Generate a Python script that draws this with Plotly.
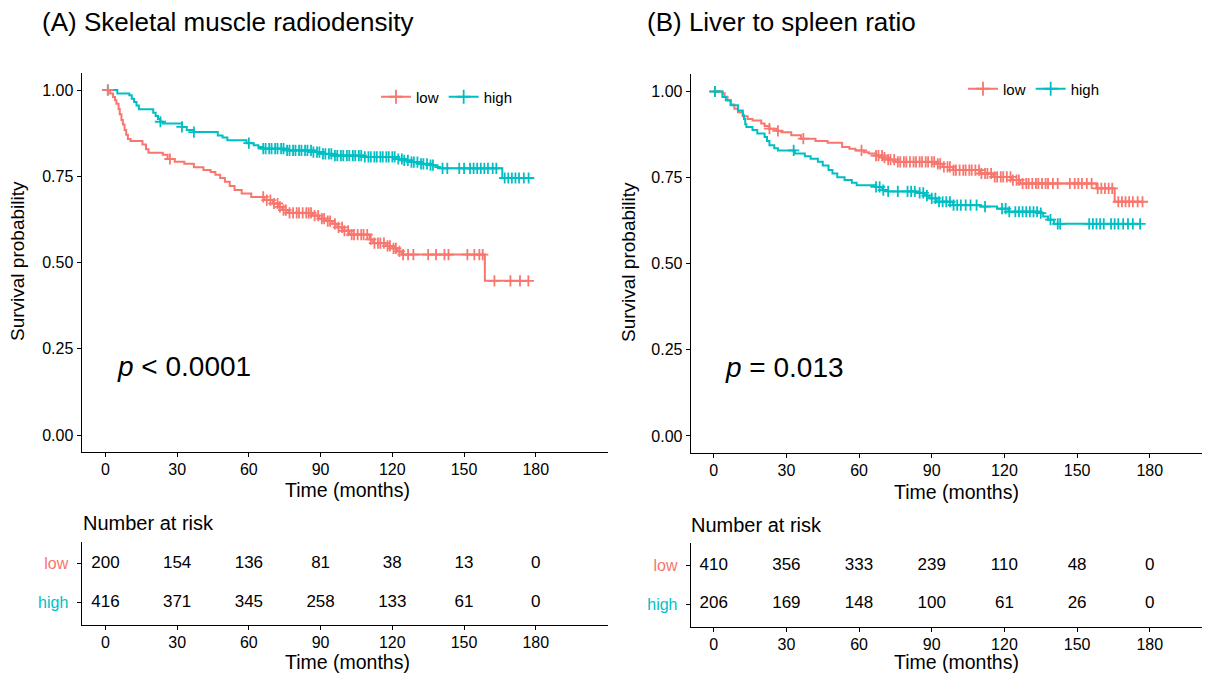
import numpy as np
import plotly.graph_objects as go

RED = "#F8766D"
TEAL = "#00BFC4"
FONT = "Liberation Sans"

# ---------------- Data ----------------
# Panel A: Skeletal muscle radiodensity
a_low_t = [0, 2, 3.2, 4, 4.6, 5.5, 6, 6.7, 7.3, 8, 8.7, 9.4, 10.5, 15.5, 17, 18, 24, 26, 29, 33, 37, 41, 44,
           46, 48, 50, 52, 54, 57, 61, 66.5, 70, 72.2, 74, 76.5, 86.4, 89.2, 92, 95, 97, 99.1, 102, 110.5,
           112, 117.5, 120.4, 122, 124, 158.7]
a_low_s = [1.0, 0.99, 0.98, 0.97, 0.96, 0.945, 0.93, 0.913, 0.9, 0.884, 0.87, 0.858, 0.852, 0.842, 0.828,
           0.818, 0.812, 0.8, 0.792, 0.786, 0.776, 0.768, 0.762, 0.754, 0.745, 0.734, 0.722, 0.71, 0.7, 0.69,
           0.681, 0.671, 0.661, 0.652, 0.644, 0.636, 0.627, 0.62, 0.612, 0.602, 0.592, 0.581, 0.567, 0.556,
           0.548, 0.541, 0.532, 0.523, 0.447]
a_low_end = 177
a_low_cens = [1, 27, 66, 67.5, 69, 70.5, 72, 73, 74.5, 75.5, 77, 78.5, 80, 81, 82.5, 84, 85, 86, 87.5, 89, 90.5,
              91.5, 93, 94, 96, 97.5, 99, 100, 101.5, 103, 104, 105.5, 107, 108, 109.5, 111, 112.5, 114, 115,
              116.5, 118, 119, 120.5, 121.5, 123, 124.5, 126.6, 128.8, 135, 138.3, 141.8, 143.5, 151.4, 154.3,
              156.4, 157.8, 162.7, 169.4, 173.4, 176.9]

a_high_t = [0, 5, 10, 11, 12, 13, 14, 20, 21, 22, 23, 24, 32, 34, 37, 47, 49, 51, 59, 62, 64, 66, 76, 87, 91,
            95, 108, 122, 125, 128, 132, 136, 138, 140, 166]
a_high_s = [1.0, 0.99, 0.985, 0.975, 0.965, 0.955, 0.944, 0.934, 0.925, 0.916, 0.908, 0.903, 0.893, 0.884,
            0.878, 0.868, 0.862, 0.854, 0.846, 0.84, 0.835, 0.83, 0.825, 0.82, 0.815, 0.81, 0.806, 0.8, 0.796,
            0.791, 0.786, 0.782, 0.777, 0.773, 0.745]
a_high_end = 178
a_high_cens = [1, 23, 32, 37, 60, 66, 67, 68.5, 69.5, 71, 72, 73.5, 74.5, 76, 77, 78.5, 79.5, 81, 82, 83.5, 84.5,
               86, 87, 88.5, 89.5, 91, 92, 93.5, 94.5, 96, 97, 98.5, 99.5, 101, 102, 103.5, 104.5, 106, 107,
               108.5, 110, 111, 112.5, 113.5, 115, 116, 117.5, 118.5, 120, 121, 122.5, 124, 125, 126.5, 128,
               129, 130.5, 132, 133, 134.5, 136, 137, 141, 143, 148, 150, 152.5, 154, 155.5, 157, 158.5, 160,
               162, 163.5, 167, 168.5, 170, 171.5, 173, 175, 177]

# Panel B: Liver to spleen ratio
b_low_t = [0, 3.6, 4.5, 5.7, 7, 8.5, 10, 12, 14, 16, 19.6, 21, 23, 26, 28, 32, 36, 42, 47, 53, 56, 58.5, 62,
           64, 67, 69.6, 72, 75, 92, 94.6, 98.8, 110, 115.4, 123, 126.5, 158, 165.5]
b_low_s = [1.0, 0.995, 0.985, 0.974, 0.962, 0.95, 0.94, 0.928, 0.92, 0.916, 0.907, 0.9, 0.892, 0.886, 0.882,
           0.873, 0.863, 0.856, 0.851, 0.839, 0.834, 0.829, 0.824, 0.82, 0.814, 0.808, 0.802, 0.796, 0.79,
           0.781, 0.772, 0.762, 0.752, 0.743, 0.733, 0.719, 0.68]
b_low_end = 177
b_low_cens = [0.5, 23, 26.5, 37, 61, 67, 68, 69.5, 70.5, 72, 73, 74.5, 76, 77, 78.5, 79.5, 81, 82.5, 83.5, 85,
              86, 87.5, 88.5, 90, 91, 92.5, 93.5, 95, 96.5, 97.5, 99, 100, 101.5, 103, 104, 105.5, 106.5, 108,
              109.5, 110.5, 112, 113, 114.5, 116, 117, 118.5, 119.5, 121, 122.5, 123.5, 125, 126, 127.5, 129,
              130, 131.5, 133, 134, 135.5, 137, 138, 140, 142, 147, 149, 150.5, 152, 154, 156, 158.5, 160,
              161.5, 163, 164.5, 167, 168.5, 170, 171.5, 173, 175, 177]

b_high_t = [0, 3.6, 5, 7, 10, 12, 12.5, 13, 13.5, 16, 18, 21, 22, 23, 25, 26.5, 33.5, 37.6, 40, 43, 45, 47.4,
            49, 51, 54, 57, 59, 67, 69.6, 72, 83.5, 87, 89, 92, 98.8, 110, 117, 121.7, 135, 136, 138, 140.4]
b_high_s = [1.0, 0.984, 0.975, 0.96, 0.945, 0.931, 0.92, 0.905, 0.897, 0.888, 0.878, 0.868, 0.856, 0.844,
            0.835, 0.829, 0.82, 0.812, 0.805, 0.796, 0.785, 0.772, 0.762, 0.751, 0.743, 0.735, 0.728, 0.723,
            0.714, 0.71, 0.706, 0.698, 0.69, 0.68, 0.67, 0.666, 0.66, 0.651, 0.647, 0.637, 0.628, 0.616]
b_high_end = 176
b_high_cens = [0.5, 33, 67, 68.5, 70, 72, 76, 80, 81.5, 83, 85, 86.5, 88, 90, 91.5, 93, 94.5, 96, 97.5, 99,
               100.5, 102, 104, 106, 108.5, 112, 119, 120.5, 122, 124.5, 126, 127.5, 129, 130.5, 132, 133.5,
               135, 139, 142, 143, 155, 156.5, 158, 159.5, 161, 164, 165.5, 167, 169, 171, 173, 176]

# Number-at-risk tables
risk_times = [0, 30, 60, 90, 120, 150, 180]
a_risk_low = [200, 154, 136, 81, 38, 13, 0]
a_risk_high = [416, 371, 345, 258, 133, 61, 0]
b_risk_low = [410, 356, 333, 239, 110, 48, 0]
b_risk_high = [206, 169, 148, 100, 61, 26, 0]

groups = ["low", "high"]
x_ticks = [0, 30, 60, 90, 120, 150, 180]
y_ticks = [0, 0.25, 0.5, 0.75, 1.0]
y_ticktext = ["0.00", "0.25", "0.50", "0.75", "1.00"]
titles = ["(A) Skeletal muscle radiodensity", "(B) Liver to spleen ratio"]
pvals = ["<i>p</i> &lt; 0.0001", "<i>p</i> = 0.013"]

# ---------------- Helpers ----------------
# The page body has an 8px default margin, so the figure is drawn offset by 8px.
OFF = 8
W, H = 1210 - OFF, 673 - OFF


def px_x(p):
    return (p - OFF) / W


def px_y(p):
    return 1 - (p - OFF) / H


def surv_at(t, times, surv):
    idx = np.searchsorted(np.asarray(times), np.asarray(t), side="right") - 1
    return np.asarray(surv)[idx]


fig = go.Figure()


def add_curve(t, s, end, cens, color, xa, ya):
    fig.add_trace(go.Scatter(x=list(t) + [end], y=list(s) + [s[-1]], mode="lines",
                             line=dict(color=color, width=2, shape="hv"),
                             xaxis=xa, yaxis=ya, showlegend=False, hoverinfo="skip"))
    fig.add_trace(go.Scatter(x=cens, y=surv_at(cens, t, s), mode="markers",
                             marker=dict(symbol="cross-thin", size=8, color=color,
                                         line=dict(color=color, width=1.8)),
                             xaxis=xa, yaxis=ya, showlegend=False, hoverinfo="skip"))


# Panel A (left)
add_curve(a_high_t, a_high_s, a_high_end, a_high_cens, TEAL, "x", "y")
add_curve(a_low_t, a_low_s, a_low_end, a_low_cens, RED, "x", "y")
# Panel B (right)
add_curve(b_low_t, b_low_s, b_low_end, b_low_cens, RED, "x3", "y3")
add_curve(b_high_t, b_high_s, b_high_end, b_high_cens, TEAL, "x3", "y3")

# Legend entries
for lg, xa, ya in [("legend", "x", "y"), ("legend2", "x3", "y3")]:
    for name, color in zip(groups, [RED, TEAL]):
        fig.add_trace(go.Scatter(x=[None], y=[None], mode="lines+markers", name=name,
                                 line=dict(color=color, width=2),
                                 marker=dict(symbol="cross-thin", size=10, color=color,
                                             line=dict(color=color, width=1.8)),
                                 xaxis=xa, yaxis=ya, legend=lg, showlegend=True))

# Risk tables
for xa, ya, lows, highs in [("x2", "y2", a_risk_low, a_risk_high), ("x4", "y4", b_risk_low, b_risk_high)]:
    fig.add_trace(go.Scatter(x=risk_times, y=[1] * len(risk_times), mode="text",
                             text=[str(v) for v in lows], textposition="middle center",
                             textfont=dict(family=FONT, size=17, color="black"),
                             xaxis=xa, yaxis=ya, showlegend=False, hoverinfo="skip"))
    fig.add_trace(go.Scatter(x=risk_times, y=[0] * len(risk_times), mode="text",
                             text=[str(v) for v in highs], textposition="middle center",
                             textfont=dict(family=FONT, size=17, color="black"),
                             xaxis=xa, yaxis=ya, showlegend=False, hoverinfo="skip"))

axis_common = dict(showline=True, linecolor="black", linewidth=1, ticks="outside", ticklen=4,
                   tickwidth=1, tickcolor="black", showgrid=False, zeroline=False,
                   tickfont=dict(family=FONT, size=16, color="black"), fixedrange=True)

# geometry in reference pixels
L_x0, L_x1 = 81.5, 607.5
R_x0, R_x1 = 690.7, 1210
L_main = (72.75, 452.25)
R_main = (74.3, 453.2)
L_tab = (541.7, 625.0)
R_tab = (542.7, 626.7)

risk_ticktext = [f"<span style='color:{RED}'>low</span>", f"<span style='color:{TEAL}'>high</span>"]

fig.update_layout(
    xaxis=dict(domain=[px_x(L_x0), px_x(L_x1)], range=[-10, 210], tickvals=x_ticks, anchor="y",
               ticklabelstandoff=-1, **axis_common),
    yaxis=dict(domain=[px_y(L_main[1]), px_y(L_main[0])], range=[-0.05, 1.05], tickvals=y_ticks,
               ticktext=y_ticktext, anchor="x", **axis_common),
    xaxis2=dict(domain=[px_x(L_x0), px_x(L_x1)], range=[-10, 210], tickvals=x_ticks, anchor="y2",
                ticklabelstandoff=-1, **axis_common),
    yaxis2=dict(domain=[px_y(L_tab[1]), px_y(L_tab[0])], range=[-0.566, 1.548], tickvals=[1, 0],
                ticktext=risk_ticktext, ticklabelstandoff=5, anchor="x2", **axis_common),
    xaxis3=dict(domain=[px_x(R_x0), 1.0], range=[-9.5, 208.2 - OFF / 2.39], tickvals=x_ticks, anchor="y3",
                ticklabelstandoff=-1, **axis_common),
    yaxis3=dict(domain=[px_y(R_main[1]), px_y(R_main[0])], range=[-0.05, 1.05], tickvals=y_ticks,
                ticktext=y_ticktext, anchor="x3", **axis_common),
    xaxis4=dict(domain=[px_x(R_x0), 1.0], range=[-9.5, 208.2 - OFF / 2.39], tickvals=x_ticks, anchor="y4",
                ticklabelstandoff=-1, **axis_common),
    yaxis4=dict(domain=[px_y(R_tab[1]), px_y(R_tab[0])], range=[-0.585, 1.60], tickvals=[1, 0],
                ticktext=risk_ticktext, ticklabelstandoff=5, anchor="x4", **axis_common),
    legend=dict(orientation="h", x=px_x(376), y=px_y(97), xanchor="left", yanchor="middle",
                font=dict(family=FONT, size=15, color="black"), bgcolor="rgba(0,0,0,0)",
                itemwidth=30, tracegroupgap=0),
    legend2=dict(orientation="h", x=px_x(963), y=px_y(89), xanchor="left", yanchor="middle",
                 font=dict(family=FONT, size=15, color="black"), bgcolor="rgba(0,0,0,0)",
                 itemwidth=30, tracegroupgap=0),
    width=W, height=H, autosize=False,
    margin=dict(l=0, r=0, t=0, b=0),
    paper_bgcolor="white", plot_bgcolor="white",
    font=dict(family=FONT, color="black"),
)

ann = []
# Panel titles
ann.append(dict(text=titles[0], x=px_x(40), y=px_y(22), xref="paper", yref="paper", xanchor="left",
                yanchor="middle", showarrow=False, font=dict(family=FONT, size=26, color="black")))
ann.append(dict(text=titles[1], x=px_x(645), y=px_y(22), xref="paper", yref="paper", xanchor="left",
                yanchor="middle", showarrow=False, font=dict(family=FONT, size=26, color="black")))
# p-values
ann.append(dict(text=pvals[0], x=4, y=0.2, xref="x", yref="y", xanchor="left", yanchor="middle",
                showarrow=False, font=dict(family=FONT, size=28, color="black")))
ann.append(dict(text=pvals[1], x=4, y=0.2, xref="x3", yref="y3", xanchor="left", yanchor="middle",
                showarrow=False, font=dict(family=FONT, size=28, color="black")))
# Axis titles
for xc, y_main, y_tab in [(347, 490, 662), (956, 492, 662)]:
    ann.append(dict(text="Time (months)", x=px_x(xc), y=px_y(y_main), xref="paper", yref="paper",
                    xanchor="center", yanchor="middle", showarrow=False,
                    font=dict(family=FONT, size=19.5, color="black")))
    ann.append(dict(text="Time (months)", x=px_x(xc), y=px_y(y_tab), xref="paper", yref="paper",
                    xanchor="center", yanchor="middle", showarrow=False,
                    font=dict(family=FONT, size=19.5, color="black")))
for xc, yc in [(18, 261), (628, 262)]:
    ann.append(dict(text="Survival probability", x=px_x(xc), y=px_y(yc), xref="paper", yref="paper",
                    xanchor="center", yanchor="middle", textangle=-90, showarrow=False,
                    font=dict(family=FONT, size=19, color="black")))
# Risk table titles
ann.append(dict(text="Number at risk", x=px_x(81), y=px_y(523), xref="paper", yref="paper", xanchor="left",
                yanchor="middle", showarrow=False, font=dict(family=FONT, size=20, color="black")))
ann.append(dict(text="Number at risk", x=px_x(689), y=px_y(525), xref="paper", yref="paper", xanchor="left",
                yanchor="middle", showarrow=False, font=dict(family=FONT, size=20, color="black")))
fig.update_layout(annotations=ann)

fig.write_html("out.html")
